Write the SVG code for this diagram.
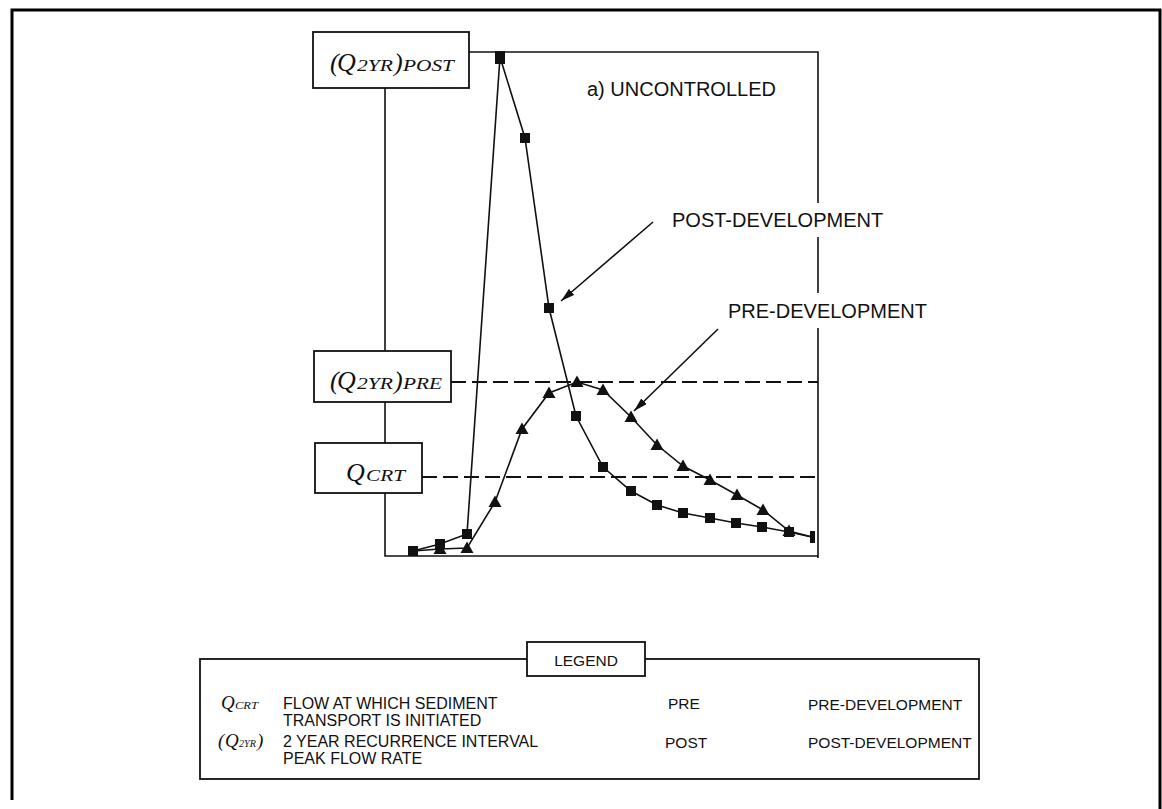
<svg xmlns="http://www.w3.org/2000/svg" width="1162" height="809" viewBox="0 0 1162 809">
<style>
.ln{fill:none;stroke:#111;stroke-width:1.6}
.box{fill:#fff;stroke:#111;stroke-width:1.8}
.dash{fill:none;stroke:#111;stroke-width:2;stroke-dasharray:15 6}
.lbl{font-family:"Liberation Sans",Arial,sans-serif;font-size:20px;fill:#111}
.leg{font-family:"Liberation Sans",Arial,sans-serif;font-size:15.5px;fill:#111}
.desc{font-family:"Liberation Sans",Arial,sans-serif;font-size:16px;fill:#111}
.q{font-family:"Liberation Serif","Times New Roman",serif;font-style:italic;fill:#111}
</style>
<defs>
<rect id="sq" x="-5" y="-5" width="10" height="10" fill="#111"/>
<path id="tri" d="M0,-6.5 L6.5,5 L-6.5,5 Z" fill="#111"/>
<marker id="ah" viewBox="0 0 14 8" refX="14" refY="4" markerWidth="14" markerHeight="8" markerUnits="userSpaceOnUse" orient="auto">
<path d="M0,0 L14,4 L0,8 Z" fill="#111"/>
</marker>
</defs>
<rect width="1162" height="809" fill="#fff"/>
<path d="M12,800 V10 H1160 V809" fill="none" stroke="#000" stroke-width="3"/>

<g id="frame-lines">
<path class="ln" d="M385,88 V351 M385,402 V443 M385,493 V556 H818"/>
<path class="ln" d="M469,52 H818 V203 M818,237 V293 M818,328 V558"/>
<path class="dash" d="M451,382 H818"/>
<path class="dash" d="M422,477 H818"/>
</g>

<g id="node-q2yr-post">
<rect class="box" x="313" y="32" width="156" height="56"/>
<text class="q" y="71" font-size="26"><tspan x="330">(</tspan><tspan x="337">Q</tspan><tspan x="357" font-size="17" textLength="36" lengthAdjust="spacingAndGlyphs">2YR</tspan><tspan x="394">)</tspan><tspan x="403" font-size="17" textLength="51" lengthAdjust="spacingAndGlyphs">POST</tspan></text>
</g>
<g id="node-q2yr-pre">
<rect class="box" x="314" y="351" width="137" height="51"/>
<text class="q" y="389" font-size="26"><tspan x="330">(</tspan><tspan x="337">Q</tspan><tspan x="357" font-size="17" textLength="36" lengthAdjust="spacingAndGlyphs">2YR</tspan><tspan x="394">)</tspan><tspan x="403" font-size="17" textLength="39" lengthAdjust="spacingAndGlyphs">PRE</tspan></text>
</g>
<g id="node-qcrt">
<rect class="box" x="315" y="443" width="107" height="50"/>
<text class="q" y="481" font-size="26"><tspan x="346">Q</tspan><tspan x="366" font-size="17" textLength="39" lengthAdjust="spacingAndGlyphs">CRT</tspan></text>
</g>

<g id="title">
<text class="lbl" x="587" y="96" font-size="19">a) UNCONTROLLED</text>
</g>

<g id="node-post-label">
<text class="lbl" x="672" y="227">POST-DEVELOPMENT</text>
</g>
<g id="node-pre-label">
<text class="lbl" x="728" y="318">PRE-DEVELOPMENT</text>
</g>

<g id="series-post">
<polyline class="ln" points="413,551 440,544 467,534 500,57 525,138 549,308 576,416 603,467 631,491 657,505 683,513 710,518 736,523 762,527 789,532 812,537"/>
<use href="#sq" x="413" y="551"/><use href="#sq" x="440" y="544"/><use href="#sq" x="467" y="534"/>
<rect x="495" y="51" width="10" height="13" fill="#111"/>
<use href="#sq" x="525" y="138"/><use href="#sq" x="549" y="308"/><use href="#sq" x="576" y="416"/>
<use href="#sq" x="603" y="467"/><use href="#sq" x="631" y="491"/><use href="#sq" x="657" y="505"/>
<use href="#sq" x="683" y="513"/><use href="#sq" x="710" y="518"/><use href="#sq" x="736" y="523"/>
<use href="#sq" x="762" y="527"/><use href="#sq" x="789" y="532"/>
<rect x="810" y="531" width="5" height="12" fill="#111"/>
</g>

<g id="series-pre">
<polyline class="ln" points="413,551 440,549 467,548 495,502 522,429 549,393 577,382 603,390 631,417 657,445 683,466 710,480 737,495 763,510 789,531 812,537"/>
<use href="#tri" x="440" y="549"/><use href="#tri" x="467" y="548"/><use href="#tri" x="495" y="502"/>
<use href="#tri" x="522" y="429"/><use href="#tri" x="549" y="393"/><use href="#tri" x="577" y="382"/>
<use href="#tri" x="603" y="390"/><use href="#tri" x="631" y="417"/><use href="#tri" x="657" y="445"/>
<use href="#tri" x="683" y="466"/><use href="#tri" x="710" y="480"/><use href="#tri" x="737" y="495"/>
<use href="#tri" x="763" y="510"/><use href="#tri" x="789" y="531"/>
</g>

<g id="connectors">
<line class="ln" x1="653" y1="222" x2="561" y2="301" marker-end="url(#ah)"/>
<line class="ln" x1="718" y1="329" x2="634" y2="411" marker-end="url(#ah)"/>
</g>

<g id="legend">
<rect class="box" x="200" y="659" width="779" height="120" stroke-width="2"/>
<rect class="box" x="527" y="642" width="118" height="34" stroke-width="2"/>
<text class="leg" x="586" y="666" font-size="18" text-anchor="middle">LEGEND</text>
<text class="q" y="709" font-size="19"><tspan x="221">Q</tspan><tspan x="235" font-size="11" textLength="23" lengthAdjust="spacingAndGlyphs">CRT</tspan></text>
<text class="desc" x="283" y="709">FLOW AT WHICH SEDIMENT</text>
<text class="desc" x="283" y="726">TRANSPORT IS INITIATED</text>
<text class="q" y="747" font-size="19"><tspan x="218">(</tspan><tspan x="225">Q</tspan><tspan x="239" font-size="11" textLength="17" lengthAdjust="spacingAndGlyphs">2YR</tspan><tspan x="257">)</tspan></text>
<text class="desc" x="283" y="747">2 YEAR RECURRENCE INTERVAL</text>
<text class="desc" x="283" y="764">PEAK FLOW RATE</text>
<text class="leg" x="668" y="709">PRE</text>
<text class="leg" x="808" y="710">PRE-DEVELOPMENT</text>
<text class="leg" x="665" y="748">POST</text>
<text class="leg" x="808" y="748">POST-DEVELOPMENT</text>
</g>
</svg>
